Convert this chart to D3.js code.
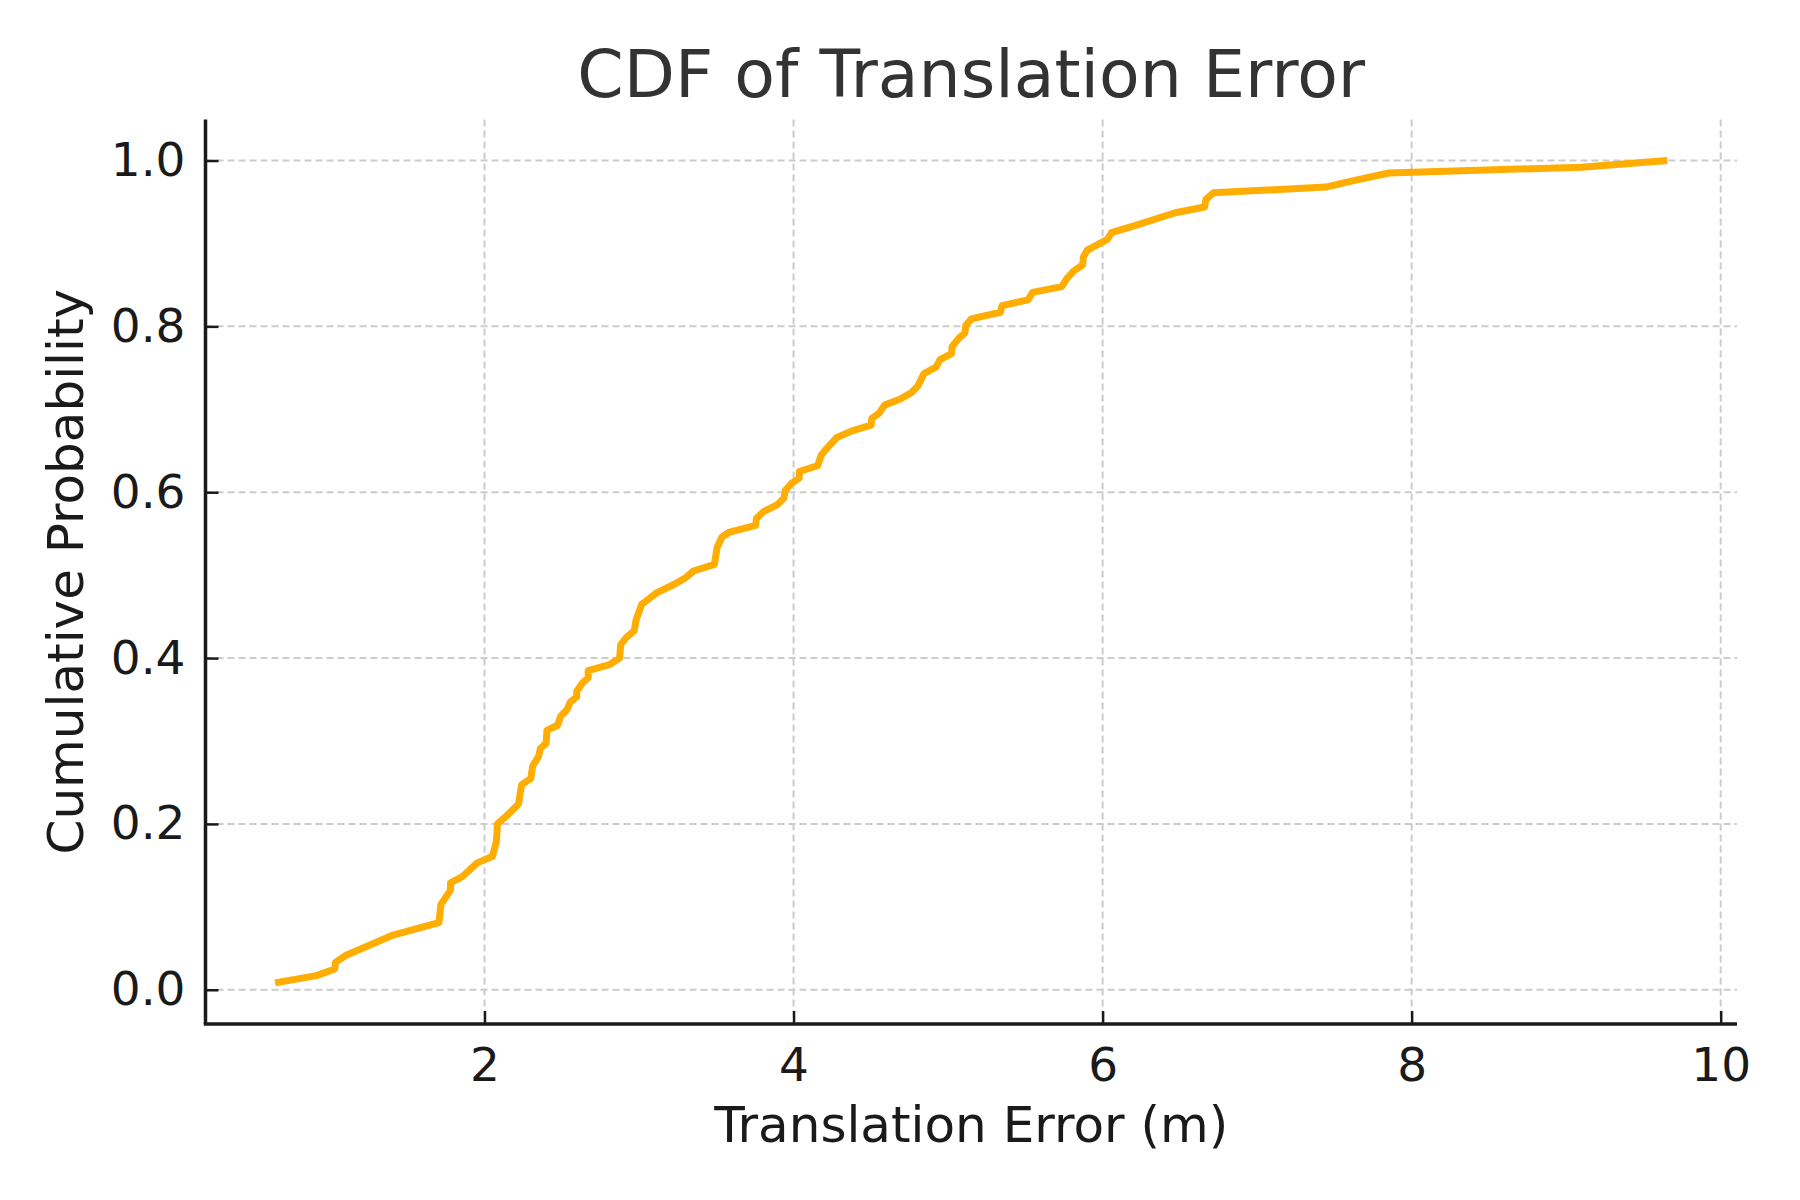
<!DOCTYPE html>
<html>
<head>
<meta charset="utf-8">
<script src="https://cdn.jsdelivr.net/npm/d3@7"></script>
<style>
  html, body { margin: 0; padding: 0; background: #ffffff; }
  svg { display: block; }
</style>
</head>
<body>
<svg id="chart" width="1800" height="1200"></svg>
<script>
const titleText = "CDF of Translation Error";
const xLabel = "Translation Error (m)";
const yLabel = "Cumulative Probability";

const errors = [
  0.645, 0.912, 1.031, 1.036, 1.098, 1.21, 1.408, 1.705, 1.718, 1.78, 1.78, 1.854, 1.953, 2.052, 2.077, 2.084,
  2.139, 2.22, 2.24, 2.30, 2.312, 2.349, 2.362, 2.399, 2.404, 2.473, 2.493, 2.535, 2.555, 2.597, 2.597, 2.634,
  2.671, 2.671, 2.808, 2.874, 2.882, 2.919, 2.969, 2.981, 3.018, 3.117, 3.229, 3.303, 3.352, 3.488, 3.505, 3.537,
  3.587, 3.755, 3.76, 3.809, 3.896, 3.938, 3.946, 3.983, 4.037, 4.037, 4.156, 4.18, 4.218, 4.28, 4.379, 4.502,
  4.507, 4.552, 4.589, 4.688, 4.762, 4.804, 4.844, 4.923, 4.948, 5.022, 5.027, 5.072, 5.109, 5.114, 5.151, 5.339,
  5.349, 5.517, 5.547, 5.735, 5.77, 5.814, 5.871, 5.876, 5.901, 6.032, 6.057, 6.198, 6.47, 6.661, 6.668, 6.718,
  7.444, 7.617, 7.852, 9.099, 9.655
];
const cumProb = [
  0.0083, 0.017, 0.025, 0.033, 0.041, 0.05, 0.066, 0.081, 0.103, 0.12, 0.129, 0.136, 0.153, 0.161, 0.179, 0.2,
  0.209, 0.224, 0.247, 0.255, 0.27, 0.281, 0.291, 0.297, 0.3127, 0.319, 0.33, 0.338, 0.347, 0.353, 0.36, 0.37,
  0.376, 0.385, 0.392, 0.40, 0.4165, 0.425, 0.433, 0.446, 0.465, 0.479, 0.489, 0.497, 0.505, 0.513, 0.533, 0.546,
  0.552, 0.56, 0.5685, 0.577, 0.585, 0.593, 0.602, 0.61, 0.617, 0.625, 0.632, 0.645, 0.6535, 0.666, 0.674, 0.681,
  0.689, 0.695, 0.705, 0.712, 0.72, 0.728, 0.743, 0.751, 0.76, 0.767, 0.776, 0.786, 0.792, 0.801, 0.809, 0.817,
  0.825, 0.832, 0.841, 0.848, 0.858, 0.867, 0.874, 0.884, 0.892, 0.905, 0.913, 0.921, 0.937, 0.944, 0.953, 0.961,
  0.968, 0.9755, 0.985, 0.992, 1.0
];
const xTicks = [2, 4, 6, 8, 10];
const yTicks = [0.0, 0.2, 0.4, 0.6, 0.8, 1.0];

(function () {
  const data = errors.map((e, i) => ({ x: e, y: cumProb[i] }));

  const mLeft = 205.5, mRight = 1737, mTop = 119.4, mBottom = 1024;
  const font = "'DejaVu Sans', sans-serif";

  function padded(ext) {
    const r = ext[1] - ext[0];
    return [ext[0] - 0.05 * r, ext[1] + 0.05 * r];
  }
  const x = d3.scaleLinear().domain(padded(d3.extent(errors))).range([mLeft, mRight]);
  const y = d3.scaleLinear().domain(padded(d3.extent(cumProb))).range([mBottom, mTop]);

  const svg = d3.select("#chart");

  // grid
  const grid = svg.append("g");
  grid.selectAll("line.gx").data(xTicks).join("line").attr("class", "gx")
    .attr("x1", d => x(d)).attr("x2", d => x(d))
    .attr("y1", mTop).attr("y2", mBottom)
    .attr("stroke", "#cccccc").attr("stroke-width", 2).attr("stroke-dasharray", "7,4");
  grid.selectAll("line.gy").data(yTicks).join("line").attr("class", "gy")
    .attr("x1", mLeft).attr("x2", mRight)
    .attr("y1", d => y(d)).attr("y2", d => y(d))
    .attr("stroke", "#cccccc").attr("stroke-width", 2).attr("stroke-dasharray", "7,4");

  // line
  const line = d3.line().x(d => x(d.x)).y(d => y(d.y));
  svg.append("path").datum(data)
    .attr("d", line)
    .attr("fill", "none")
    .attr("stroke", "#FFAD00")
    .attr("stroke-width", 7)
    .attr("stroke-linejoin", "round");

  // axes
  const xAxis = d3.axisBottom(x).tickValues(xTicks).tickSizeInner(-13).tickSizeOuter(0).tickPadding(24).tickFormat(d3.format("d"));
  const yAxis = d3.axisLeft(y).tickValues(yTicks).tickSizeInner(-13).tickSizeOuter(0).tickPadding(20).tickFormat(d3.format(".1f"));

  const gx = svg.append("g").attr("transform", `translate(0,${mBottom})`).call(xAxis);
  const gy = svg.append("g").attr("transform", `translate(${mLeft},0)`).call(yAxis);

  [gx, gy].forEach(g => {
    g.select(".domain").attr("stroke", "#1a1a1a").attr("stroke-width", 3.5);
    g.selectAll(".tick line").attr("stroke", "#1a1a1a").attr("stroke-width", 2.5);
    g.selectAll(".tick text").attr("fill", "#1a1a1a").style("font-family", font).style("font-size", "47px");
  });
  gx.select(".domain").attr("d", `M${mLeft - 1.75},0H${mRight}`);
  gy.select(".domain").attr("d", `M0,${mTop}V${mBottom}`);
  gx.selectAll(".tick text").attr("dy", "0.71em");

  // title and labels
  svg.append("text").attr("x", (mLeft + mRight) / 2).attr("y", 97)
    .attr("text-anchor", "middle").attr("fill", "#333333")
    .style("font-family", font).style("font-size", "66.5px").text(titleText);

  svg.append("text").attr("x", (mLeft + mRight) / 2).attr("y", 1142)
    .attr("text-anchor", "middle").attr("fill", "#1a1a1a")
    .style("font-family", font).style("font-size", "50px").text(xLabel);

  svg.append("text").attr("transform", `translate(83,${(mTop + mBottom) / 2}) rotate(-90)`)
    .attr("text-anchor", "middle").attr("fill", "#1a1a1a")
    .style("font-family", font).style("font-size", "50px").text(yLabel);
})();
</script>
</body>
</html>
